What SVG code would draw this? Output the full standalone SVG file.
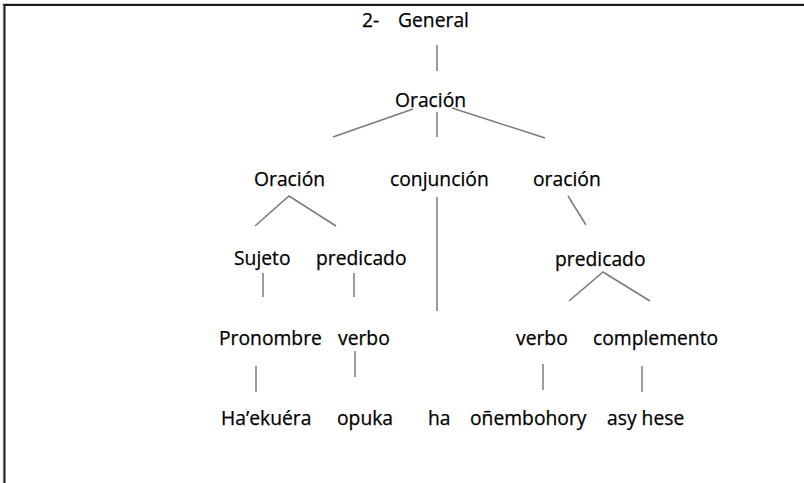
<svg xmlns="http://www.w3.org/2000/svg" width="804" height="483" viewBox="0 0 804 483">
<style>
text{font-family:"Open Sans","Noto Sans",sans-serif;font-size:19.3px;fill:#000;stroke:#000;stroke-width:0.25}
.c line{stroke:#7a7a7a;stroke-width:1.5;fill:none}
</style>
<rect x="0" y="0" width="804" height="483" fill="#fff"/>
<line x1="3" y1="3.5" x2="804" y2="3.5" stroke="#d0d0d0" stroke-width="1"/>
<line x1="3" y1="5" x2="804" y2="5" stroke="#1a1a1a" stroke-width="2"/>
<line x1="3" y1="3" x2="3" y2="483" stroke="#d0d0d0" stroke-width="1"/>
<line x1="4.5" y1="4" x2="4.5" y2="483" stroke="#1a1a1a" stroke-width="2"/>
<g class="c" id="connectors">
<line x1="437" y1="45" x2="437" y2="71"/>
<line x1="413" y1="109" x2="333" y2="137"/>
<line x1="437" y1="112" x2="437" y2="137"/>
<line x1="452" y1="108" x2="545" y2="138"/>
<polyline points="255,226 289,196 336,226" stroke="#7a7a7a" stroke-width="1.5" fill="none"/>
<line x1="437" y1="197" x2="437" y2="311"/>
<line x1="568" y1="196" x2="586" y2="225"/>
<line x1="263" y1="273" x2="263" y2="297"/>
<line x1="354" y1="273" x2="354" y2="297"/>
<polyline points="569,301 603,272 650,301" stroke="#7a7a7a" stroke-width="1.5" fill="none"/>
<line x1="256" y1="366" x2="256" y2="392"/>
<line x1="355" y1="351" x2="355" y2="377"/>
<line x1="543" y1="364" x2="543" y2="390"/>
<line x1="642" y1="366" x2="642" y2="392"/>
</g>
<g id="general"><text x="362" y="27">2-</text><text x="398" y="27">General</text></g>
<g id="oracion-root"><text x="395" y="107">Oración</text></g>
<g id="oracion-l"><text x="254" y="186">Oración</text></g>
<g id="conjuncion"><text x="390" y="186">conjunción</text></g>
<g id="oracion-r"><text x="533" y="186">oración</text></g>
<g id="sujeto"><text x="234" y="265">Sujeto</text></g>
<g id="predicado-l"><text x="316" y="265">predicado</text></g>
<g id="predicado-r"><text x="555" y="266">predicado</text></g>
<g id="pronombre"><text x="219" y="345">Pronombre</text></g>
<g id="verbo-l"><text x="338" y="345">verbo</text></g>
<g id="verbo-r"><text x="516" y="345">verbo</text></g>
<g id="complemento"><text x="593" y="345">complemento</text></g>
<g id="haekuera"><text x="221" y="425">Ha’ekuéra</text></g>
<g id="opuka"><text x="337" y="425">opuka</text></g>
<g id="ha"><text x="428" y="425">ha</text></g>
<g id="onembohory"><text x="470" y="425">oñembohory</text></g>
<g id="asyhese"><text x="607" y="425">asy hese</text></g>
</svg>
